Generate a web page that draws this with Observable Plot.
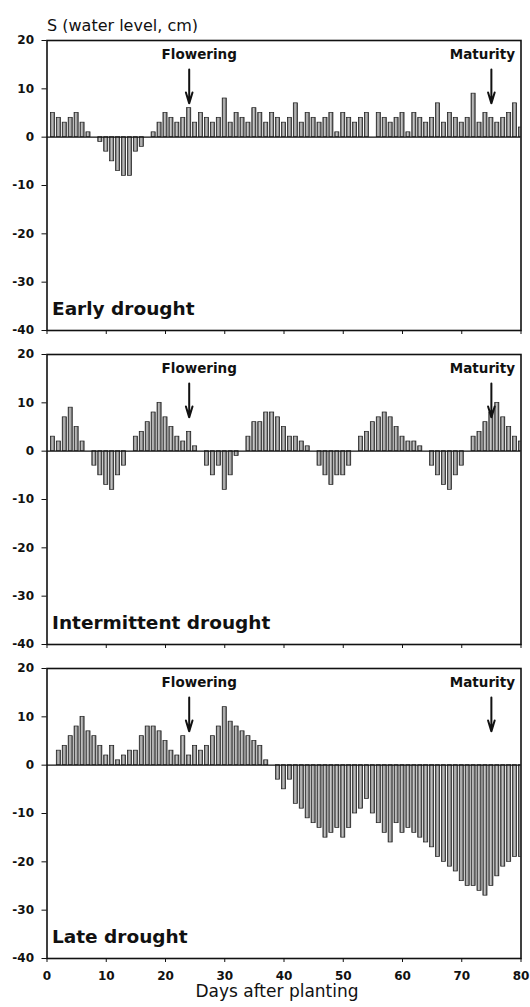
<!DOCTYPE html>
<html>
<head>
<meta charset="utf-8">
<script src="https://cdn.jsdelivr.net/npm/d3@7"></script>
<script src="https://cdn.jsdelivr.net/npm/@observablehq/plot@0.6"></script>
<style>
  html, body { margin: 0; padding: 0; background: #fff; }
  #wrap { position: relative; width: 530px; height: 1007px; font-family: "DejaVu Sans", sans-serif; color: #111; }
  #ytitle { position: absolute; left: 47px; top: 18px; font-size: 16px; line-height: 16px; white-space: nowrap; }
  #chart { position: absolute; left: 0; top: 33px; }
  #xtitle { position: absolute; left: 0; width: 554px; top: 983px; font-size: 17px; line-height: 17px; text-align: center; white-space: nowrap; }
</style>
</head>
<body>
<div id="wrap">
  <div id="ytitle">S (water level, cm)</div>
  <div id="chart"></div>
  <div id="xtitle">Days after planting</div>
</div>
<script>
// Panels (treatments)
const panels = ["Early drought", "Intermittent drought", "Late drought"];

// Water level S (cm) for days 1..80 in each treatment
const earlyDrought = [
  5, 4, 3, 4, 5, 3, 1, 0, -1, -3,
  -5, -7, -8, -8, -3, -2, 0, 1, 3, 5,
  4, 3, 4, 6, 3, 5, 4, 3, 4, 8,
  3, 5, 4, 3, 6, 5, 3, 5, 4, 3,
  4, 7, 3, 5, 4, 3, 4, 5, 1, 5,
  4, 3, 4, 5, 0, 5, 4, 3, 4, 5,
  1, 5, 4, 3, 4, 7, 3, 5, 4, 3,
  4, 9, 3, 5, 4, 3, 4, 5, 7, 2
];
const intermittentDrought = [
  3, 2, 7, 9, 5, 2, 0, -3, -5, -7,
  -8, -5, -3, 0, 3, 4, 6, 8, 10, 7,
  5, 3, 2, 4, 1, 0, -3, -5, -3, -8,
  -5, -1, 0, 3, 6, 6, 8, 8, 7, 5,
  3, 3, 2, 1, 0, -3, -5, -7, -5, -5,
  -3, 0, 3, 4, 6, 7, 8, 7, 5, 3,
  2, 2, 1, 0, -3, -5, -7, -8, -5, -3,
  0, 3, 4, 6, 8, 10, 7, 5, 3, 2
];
const lateDrought = [
  0, 3, 4, 6, 8, 10, 7, 6, 4, 2,
  4, 1, 2, 3, 3, 6, 8, 8, 7, 5,
  3, 2, 6, 2, 4, 3, 4, 6, 8, 12,
  9, 8, 7, 6, 5, 4, 1, 0, -3, -5,
  -3, -8, -9, -11, -12, -13, -15, -14, -13, -15,
  -13, -10, -9, -7, -10, -12, -14, -16, -12, -14,
  -13, -14, -15, -16, -17, -19, -20, -21, -22, -24,
  -25, -25, -26, -27, -25, -23, -21, -20, -19, -19
];

// Growth stages (day after planting)
const stageNames = ["Flowering", "Maturity"];
const stageDays = [24, 75];

// Axis ticks
const xTicks = [0, 10, 20, 30, 40, 50, 60, 70, 80];
const yTicks = [-40, -30, -20, -10, 0, 10, 20];

// Build the table
const series = [earlyDrought, intermittentDrought, lateDrought];
const data = [];
series.forEach((vals, p) => vals.forEach((v, i) => data.push({panel: panels[p], day: i + 1, value: v})));
const events = stageNames.map((name, i) => ({label: name, day: stageDays[i]}));

const chart = Plot.plot({
  width: 530,
  height: 952,
  marginLeft: 46.5,
  marginRight: 9.5,
  marginTop: 7,
  marginBottom: 26,
  style: {fontFamily: "DejaVu Sans", fontSize: "12px", color: "#111", background: "white"},
  x: {domain: [0, 80], label: null},
  y: {domain: [-40, 20], label: null},
  fy: {domain: panels, paddingInner: 0.075, paddingOuter: 0, axis: null, label: null},
  marks: [
    Plot.rect(data, {
      fy: "panel",
      x1: d => d.day - 0.5, x2: d => d.day + 0.5,
      y1: 0, y2: "value",
      insetLeft: 0.9, insetRight: 0.9,
      fill: "url(#barGrad)", stroke: "#1e1e1e", strokeWidth: 0.7,
      clip: "frame"
    }),
    Plot.ruleY([0], {stroke: "#111", strokeWidth: 1.1}),
    Plot.frame({stroke: "#111", strokeWidth: 1.6}),
    Plot.axisY({ticks: yTicks, tickFormat: d => String(d), tickSize: 5, tickPadding: 8, fontWeight: "bold", label: null}),
    Plot.axisX({ticks: xTicks, tickSize: 4, tickFormat: () => "", facetAnchor: null, label: null}),
    Plot.axisX({ticks: xTicks, tickSize: 0, tickPadding: 13, tickFormat: d => String(d), fontWeight: "bold", label: null}),
    Plot.arrow(events, {x: "day", y1: 14, y2: 7, stroke: "#111", strokeWidth: 2, headLength: 9, headAngle: 34}),
    Plot.text(events.filter(d => d.label === "Flowering"), {x: "day", y: 17, text: "label", dx: 10, fontWeight: "bold", fontSize: 13.5, fill: "#111"}),
    Plot.text(events.filter(d => d.label === "Maturity"), {x: "day", y: 17, text: "label", dx: -9, fontWeight: "bold", fontSize: 13.5, fill: "#111"}),
    Plot.text(panels, {fy: d => d, text: d => d, frameAnchor: "bottom-left", textAnchor: "start", lineAnchor: "middle", dx: 5, dy: -21, fontWeight: "bold", fontSize: 18.5, fill: "#111"})
  ]
});

const svg = chart.tagName.toLowerCase() === "svg" ? chart : chart.querySelector("svg");
d3.select(svg).insert("defs", ":first-child").html(
  '<linearGradient id="barGrad" x1="0" x2="1" y1="0" y2="0">' +
  '<stop offset="0" stop-color="#3c3c3c"/>' +
  '<stop offset="0.4" stop-color="#c8c8c8"/>' +
  '<stop offset="0.75" stop-color="#8e8e8e"/>' +
  '<stop offset="1" stop-color="#363636"/>' +
  '</linearGradient>'
);
document.getElementById("chart").appendChild(chart);
</script>
</body>
</html>
